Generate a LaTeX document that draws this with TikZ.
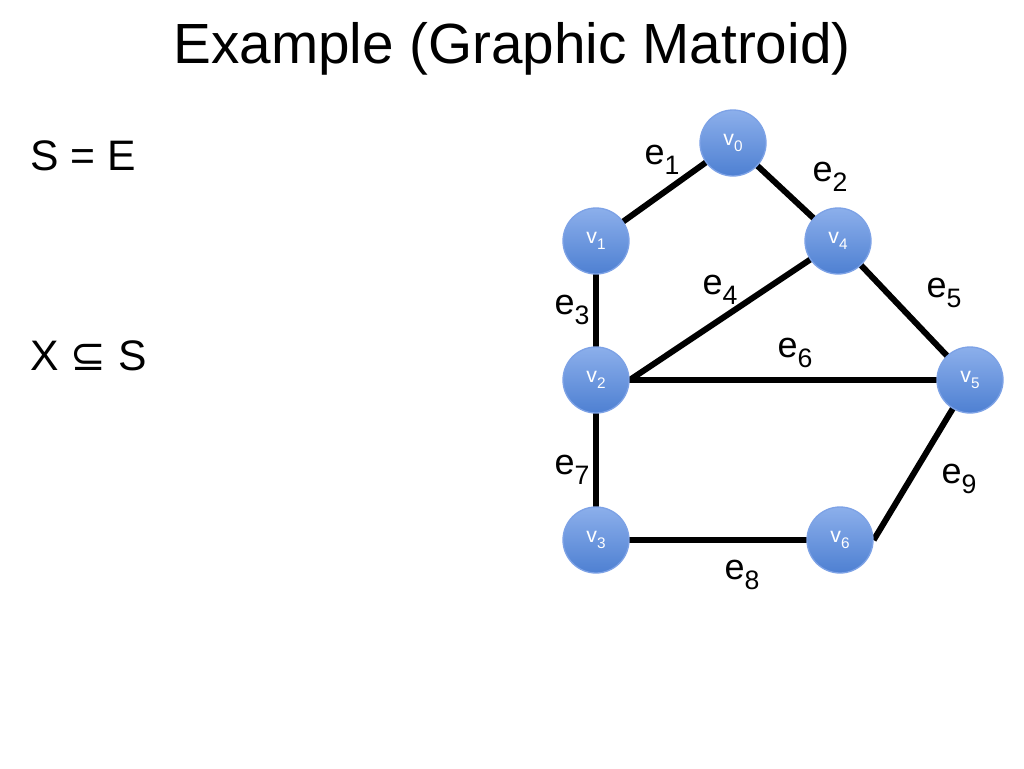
\documentclass[tikz,border=0pt]{standalone}
\usepackage{fontspec}
\setmainfont{Liberation Sans}
\newfontfamily\symfont{DejaVu Sans}
\usetikzlibrary{backgrounds}
\newcommand{\esub}[1]{\raisebox{-0.28em}{\fontsize{20}{20}\selectfont #1}}
\newcommand{\vsub}[1]{\raisebox{-0.3em}{\fontsize{11.5}{11.5}\selectfont #1}}
\begin{document}
\begin{tikzpicture}[x=0.75pt,y=-0.75pt,
  vert/.style={circle,minimum size=49.5pt,inner sep=0pt,
    top color={rgb,255:red,140;green,175;blue,235},
    bottom color={rgb,255:red,78;green,128;blue,210},
    draw={rgb,255:red,125;green,162;blue,230},line width=1pt,
    text=white,font=\fontsize{16}{16}\selectfont},
  edge/.style={line width=4.5pt,black},
  elab/.style={font=\fontsize{27}{27}\selectfont,inner sep=0pt},
  big/.style={font=\fontsize{32}{32}\selectfont,inner sep=0pt,anchor=base west}]
\useasboundingbox (0,0) rectangle (1024,768);
\node[font=\fontsize{42.5}{42.5}\selectfont,inner sep=0pt,anchor=base] (title) at (512,63) {Example (Graphic Matroid)};
\node[big] (se) at (30,170) {S = E};
\node[big] (xs) at (30,370) {X {\symfont ⊆} S};
% vertices
\node[vert] (v0) at (733,143) {v\vsub{0}};
\node[vert] (v1) at (596,241) {v\vsub{1}};
\node[vert] (v4) at (838,241) {v\vsub{4}};
\node[vert] (v2) at (596,380) {v\vsub{2}};
\node[vert] (v5) at (970,380) {v\vsub{5}};
\node[vert] (v3) at (596,540) {v\vsub{3}};
\node[vert] (v6) at (840,540) {v\vsub{6}};
% edges
\begin{pgfonlayer}{background}
\draw[edge] (v0.center) -- (v1.center);
\draw[edge] (v0.center) -- (v4.center);
\draw[edge] (v1.center) -- (v2.center);
\draw[edge] (v2.east) -- (v4.center);
\draw[edge] (v4.center) -- (v5.center);
\draw[edge] (v2.center) -- (v5.center);
\draw[edge] (v2.center) -- (v3.center);
\draw[edge] (v3.center) -- (v6.center);
\draw[edge] (v6.east) -- (v5.center);
\end{pgfonlayer}
% labels
\node[elab] (l1) at (662,160) {e\esub{1}};
\node[elab] (l2) at (830,177) {e\esub{2}};
\node[elab] (l3) at (572,310) {e\esub{3}};
\node[elab] (l4) at (720,290) {e\esub{4}};
\node[elab] (l5) at (944,293) {e\esub{5}};
\node[elab] (l6) at (795,353) {e\esub{6}};
\node[elab] (l7) at (572,470) {e\esub{7}};
\node[elab] (l8) at (742,575) {e\esub{8}};
\node[elab] (l9) at (959,479) {e\esub{9}};
\end{tikzpicture}
\end{document}
